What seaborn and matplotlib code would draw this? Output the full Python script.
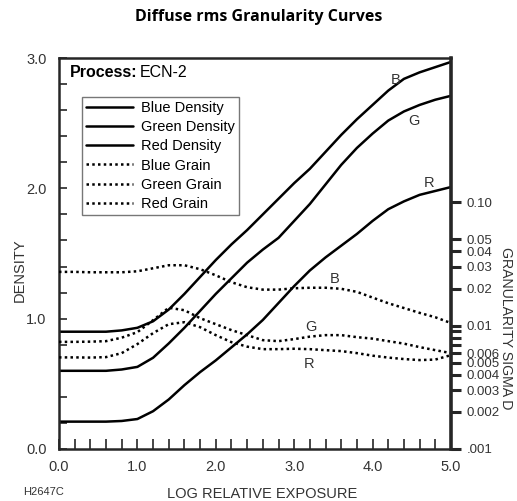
import matplotlib
matplotlib.use("Agg")
import matplotlib.pyplot as plt
import seaborn as sns
import numpy as np

sns.set_style("ticks")
plt.rcParams['font.family'] = ['Liberation Sans', 'DejaVu Sans']

# log relative exposure
log_e = [0.0, 0.2, 0.4, 0.6, 0.8, 1.0, 1.2, 1.4, 1.6, 1.8, 2.0, 2.2, 2.4,
         2.6, 2.8, 3.0, 3.2, 3.4, 3.6, 3.8, 4.0, 4.2, 4.4, 4.6, 4.8, 5.0]

# density curves
blue_density = [0.90, 0.90, 0.90, 0.90, 0.91, 0.93, 0.98, 1.07, 1.19, 1.32,
                1.45, 1.57, 1.68, 1.80, 1.92, 2.04, 2.15, 2.28, 2.41, 2.53,
                2.64, 2.75, 2.84, 2.89, 2.93, 2.97]
green_density = [0.60, 0.60, 0.60, 0.60, 0.61, 0.63, 0.70, 0.81, 0.93, 1.06,
                 1.19, 1.31, 1.43, 1.53, 1.62, 1.75, 1.88, 2.03, 2.18, 2.31,
                 2.42, 2.52, 2.59, 2.64, 2.68, 2.71]
red_density = [0.21, 0.21, 0.21, 0.21, 0.215, 0.23, 0.29, 0.38, 0.49, 0.59,
               0.68, 0.78, 0.88, 0.99, 1.12, 1.25, 1.37, 1.47, 1.56, 1.65,
               1.75, 1.84, 1.90, 1.95, 1.98, 2.01]

# granularity (sigma D)
blue_grain = [0.0273, 0.0273, 0.0271, 0.0271, 0.0271, 0.0276, 0.0292, 0.0309,
              0.0309, 0.0287, 0.0256, 0.0225, 0.0205, 0.0196, 0.0196, 0.0201,
              0.0203, 0.0203, 0.0199, 0.0188, 0.0169, 0.0152, 0.0139, 0.0127,
              0.0117, 0.0105]
green_grain = [0.00739, 0.00739, 0.00742, 0.00749, 0.00799, 0.00886, 0.01108,
               0.01398, 0.01334, 0.0115, 0.01028, 0.0092, 0.00838, 0.00763,
               0.00749, 0.00778, 0.00815, 0.00838, 0.00838, 0.00807, 0.00785,
               0.00749, 0.00715, 0.0067, 0.00633, 0.00599]
red_grain = [0.00553, 0.00553, 0.00551, 0.00556, 0.00599, 0.00709, 0.0087,
             0.01028, 0.01067, 0.00972, 0.00838, 0.00735, 0.00676, 0.00645,
             0.00645, 0.0065, 0.00645, 0.00633, 0.00622, 0.00599, 0.00571,
             0.00551, 0.00536, 0.00526, 0.00531, 0.00577]

grain_ticks = [0.001, 0.002, 0.003, 0.004, 0.005, 0.006, 0.007, 0.008, 0.009,
               0.01, 0.02, 0.03, 0.04, 0.05, 0.1]
grain_labels = [".001", "0.002", "0.003", "0.004", "0.005", "0.006", "", "", "",
                "0.01", "0.02", "0.03", "0.04", "0.05", "0.10"]

txt = "#333333"
fs = 10.5
lw = 1.8
dots = (0, (1, 1.3))

fig = plt.figure(figsize=(5.17, 5.01), dpi=100)
ax = fig.add_axes([0.1141, 0.1038, 0.7582, 0.7804])
ax2 = ax.twinx()

sns.lineplot(x=log_e, y=blue_density, ax=ax, color="k", lw=lw, label="Blue Density", legend=False)
sns.lineplot(x=log_e, y=green_density, ax=ax, color="k", lw=lw, label="Green Density", legend=False)
sns.lineplot(x=log_e, y=red_density, ax=ax, color="k", lw=lw, label="Red Density", legend=False)
sns.lineplot(x=log_e, y=blue_grain, ax=ax2, color="k", lw=lw, ls=dots, label="Blue Grain", legend=False)
sns.lineplot(x=log_e, y=green_grain, ax=ax2, color="k", lw=lw, ls=dots, label="Green Grain", legend=False)
sns.lineplot(x=log_e, y=red_grain, ax=ax2, color="k", lw=lw, ls=dots, label="Red Grain", legend=False)

ax.set_xlim(0, 5)
ax.set_ylim(0, 3)
ax.set_xlabel("")
ax.set_ylabel("")
ax.set_xticks(np.arange(0, 5.01, 0.2))
ax.set_xticklabels(["%.1f" % v if abs(v - round(v)) < 1e-6 else "" for v in np.arange(0, 5.01, 0.2)])
ax.set_yticks(np.arange(0, 3.01, 0.2))
ax.set_yticklabels(["%.1f" % v if abs(v - round(v)) < 1e-6 else "" for v in np.arange(0, 3.01, 0.2)])
ax.tick_params(axis="x", direction="in", length=7, width=1.2, pad=8, labelsize=fs, labelcolor=txt)
ax.tick_params(axis="y", direction="in", length=6, width=1.2, pad=9, labelsize=fs, labelcolor=txt)
for s in ["left", "bottom", "top"]:
    ax.spines[s].set_linewidth(1.8)
ax.spines["right"].set_visible(False)

ax2.set_yscale("log")
ax2.set_ylim(0.001, 1.48)
ax2.set_ylabel("")
ax2.set_yticks(grain_ticks)
ax2.set_yticklabels(grain_labels)
ax2.yaxis.set_minor_locator(matplotlib.ticker.NullLocator())
ax2.tick_params(axis="y", direction="out", length=7, width=2.2, pad=4, labelsize=9.5, labelcolor=txt)
for s in ["left", "bottom", "top"]:
    ax2.spines[s].set_visible(False)
ax2.spines["right"].set_linewidth(2.6)

# curve letters
ax.text(4.29, 2.835, "B", fontsize=fs, color=txt, ha="center", va="center")
ax.text(4.53, 2.52, "G", fontsize=fs, color=txt, ha="center", va="center")
ax.text(4.72, 2.04, "R", fontsize=fs, color=txt, ha="center", va="center")
ax.text(3.52, 1.308, "B", fontsize=fs, color=txt, ha="center", va="center")
ax.text(3.22, 0.937, "G", fontsize=fs, color=txt, ha="center", va="center")
ax.text(3.19, 0.651, "R", fontsize=fs, color=txt, ha="center", va="center")

ax.text(0.028, 0.962, "Process:", transform=ax.transAxes, fontsize=11.5,
        fontweight="bold", color="k", va="center", ha="left")
ax.text(0.205, 0.962, "ECN-2", transform=ax.transAxes, fontsize=11.5,
        color="k", va="center", ha="left")

h1, l1 = ax.get_legend_handles_labels()
h2, l2 = ax2.get_legend_handles_labels()
leg = ax2.legend(h1 + h2, l1 + l2, loc="upper left", bbox_to_anchor=(0.0587, 0.900),
                 borderaxespad=0, fancybox=False, frameon=True, fontsize=fs,
                 handlelength=3.2, handletextpad=0.55, labelspacing=0.35,
                 borderpad=0.28, edgecolor="#555555")
leg.get_frame().set_linewidth(1.0)
for t in leg.get_texts():
    t.set_color("k")

fig.text(0.5, 0.966, "Diffuse rms Granularity Curves", ha="center", va="center",
         fontsize=11.5, fontweight="bold", family="Open Sans", color="k")
fig.text(0.039, 0.461, "DENSITY", rotation=90, ha="center", va="center", fontsize=fs, color=txt)
fig.text(0.979, 0.345, "GRANULARITY SIGMA D", rotation=270, ha="center", va="center",
         fontsize=10.2, color=txt)
fig.text(0.507, 0.028, "LOG RELATIVE EXPOSURE", ha="center", va="top", fontsize=fs, color=txt)
fig.text(0.045, 0.028, "H2647C", ha="left", va="top", fontsize=8, color=txt)

fig.savefig("out.png", dpi=100)
